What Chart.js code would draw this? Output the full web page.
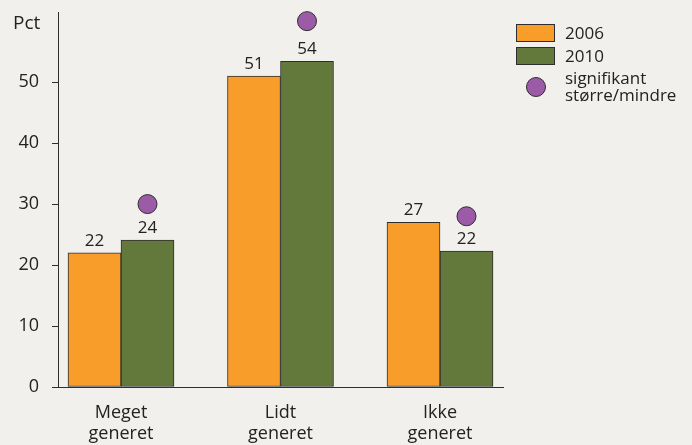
<!DOCTYPE html>
<html>
<head>
<meta charset="utf-8">
<script src="https://cdn.jsdelivr.net/npm/chart.js@4/dist/chart.umd.min.js"></script>
<style>
html,body{margin:0;padding:0;background:#F2F0EC;}
#wrap{width:692px;height:445px;}
</style>
</head>
<body>
<div id="wrap"><canvas id="c" width="692" height="445"></canvas></div>
<script>
// ---- data ----
const categories = [["Meget", "generet"], ["Lidt", "generet"], ["Ikke", "generet"]];
const values2006 = [22, 51, 27];
const values2010 = [24.1, 53.4, 22.3];
const labels2006 = ["22", "51", "27"];
const labels2010 = ["24", "54", "22"];
const significant = [30, 60, 28];   // marker positions (over 2010 bars)
const seriesNames = ["2006", "2010"];
const sigLabel = ["signifikant", "større/mindre"];
const yTicks = [0, 10, 20, 30, 40, 50];
const yUnit = "Pct";

const COL_ORANGE = "#F99D2A";
const COL_GREEN = "#63783B";
const COL_PURPLE = "#9C5BA7";
const COL_TEXT = "#222222";
const COL_LINE = "#2e2e2e";
const FONT = "'Open Sans', sans-serif";

const overlay = {
  id: "overlay",
  afterDatasetsUpdate(chart) {
    // place significance markers above the 2010 bars
    const barMeta = chart.getDatasetMeta(2);
    const sigMeta = chart.getDatasetMeta(0);
    sigMeta.data.forEach((pt, i) => { pt.x = barMeta.data[i].x; });
  },
  afterDraw(chart) {
    const ctx = chart.ctx;
    const ca = chart.chartArea;
    ctx.save();
    ctx.fillStyle = COL_TEXT;
    // unit label
    ctx.font = "19px " + FONT;
    ctx.textAlign = "left";
    ctx.textBaseline = "alphabetic";
    ctx.fillText(yUnit, 13, 29);
    // value labels
    ctx.font = "17px " + FONT;
    ctx.textAlign = "center";
    [[1, labels2006], [2, labels2010]].forEach(([di, labs]) => {
      chart.getDatasetMeta(di).data.forEach((bar, i) => {
        ctx.fillText(labs[i], bar.x, bar.y - 7);
      });
    });
    // legend
    const lx = ca.right + 13;
    ctx.lineWidth = 1;
    ctx.strokeStyle = COL_LINE;
    ctx.fillStyle = COL_ORANGE;
    ctx.fillRect(lx + 0.5, 24.5, 38, 17);
    ctx.strokeRect(lx + 0.5, 24.5, 38, 17);
    ctx.fillStyle = COL_GREEN;
    ctx.fillRect(lx + 0.5, 47.5, 38, 17);
    ctx.strokeRect(lx + 0.5, 47.5, 38, 17);
    ctx.beginPath();
    ctx.arc(lx + 20, 87, 9.5, 0, Math.PI * 2);
    ctx.fillStyle = COL_PURPLE;
    ctx.fill();
    ctx.stroke();
    ctx.fillStyle = COL_TEXT;
    ctx.font = "17px " + FONT;
    ctx.textAlign = "left";
    ctx.fillText(seriesNames[0], lx + 49, 38.5);
    ctx.fillText(seriesNames[1], lx + 49, 61.5);
    ctx.fillText(sigLabel[0], lx + 49, 84);
    ctx.fillText(sigLabel[1], lx + 49, 100.5);
    ctx.restore();
  }
};

new Chart(document.getElementById("c"), {
  type: "bar",
  data: {
    datasets: [
      {
        type: "line",
        label: "signifikant større/mindre",
        data: significant.map((y, i) => ({ x: i, y })),
        showLine: false,
        pointRadius: 9.5,
        pointHoverRadius: 9.5,
        pointBackgroundColor: COL_PURPLE,
        pointBorderColor: COL_LINE,
        pointBorderWidth: 1,
        clip: false,
        order: 0
      },
      {
        label: seriesNames[0],
        data: values2006.map((y, i) => ({ x: i, y })),
        backgroundColor: COL_ORANGE,
        borderColor: COL_LINE,
        borderWidth: 1,
        borderSkipped: false,
        barThickness: 53,
        order: 1
      },
      {
        label: seriesNames[1],
        data: values2010.map((y, i) => ({ x: i, y })),
        backgroundColor: COL_GREEN,
        borderColor: COL_LINE,
        borderWidth: 1,
        borderSkipped: false,
        barThickness: 53,
        order: 1
      }
    ]
  },
  options: {
    responsive: false,
    animation: false,
    devicePixelRatio: 1,
    layout: { autoPadding: false, padding: { top: 12, right: 189, left: 0, bottom: 0 } },
    plugins: { legend: { display: false }, tooltip: { enabled: false } },
    scales: {
      x: {
        type: "linear",
        offset: false,
        min: -0.395,
        max: 2.395,
        afterBuildTicks: (s) => { s.ticks = categories.map((_, i) => ({ value: i })); },
        afterFit: (s) => { s.height = 58; s.paddingLeft = 0; s.paddingRight = 0; },
        grid: { display: true, offset: false, drawOnChartArea: false, drawTicks: false },
        border: { display: true, color: COL_LINE, width: 1 },
        ticks: {
          padding: 16,
          color: COL_TEXT,
          font: { family: FONT, size: 18, lineHeight: 1.13 },
          maxRotation: 0,
          autoSkip: false,
          callback: (v) => categories[v]
        }
      },
      y: {
        min: 0,
        max: 61.5,
        afterBuildTicks: (s) => { s.ticks = yTicks.map(v => ({ value: v })); },
        afterFit: (s) => { s.width = 58; s.paddingTop = 0; s.paddingBottom = 0; },
        grid: { display: true, drawOnChartArea: false, drawTicks: true, tickLength: 6, color: COL_LINE },
        border: { display: true, color: COL_LINE, width: 1 },
        ticks: {
          padding: 13,
          color: COL_TEXT,
          font: { family: FONT, size: 18 },
          callback: (v) => String(v)
        }
      }
    }
  },
  plugins: [overlay]
});
</script>
</body>
</html>
